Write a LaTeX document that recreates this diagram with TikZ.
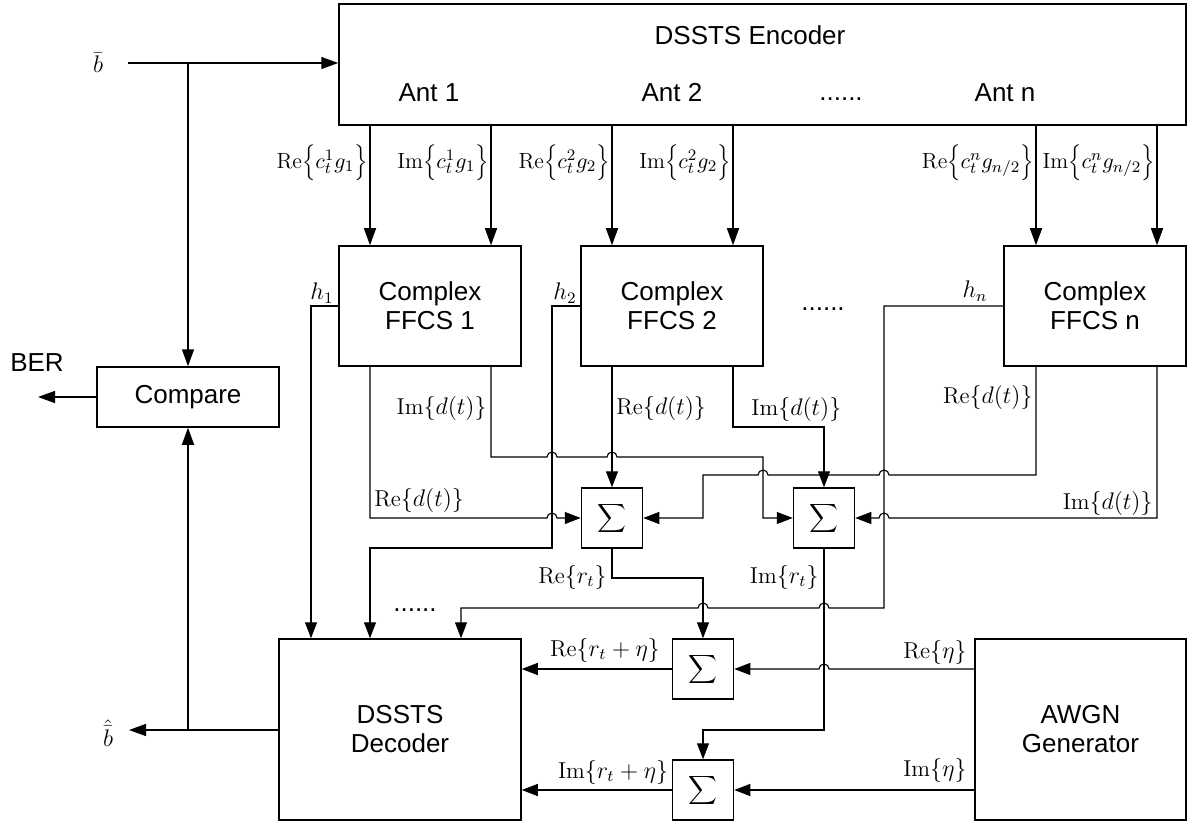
\documentclass[tikz,border=0pt]{standalone}
\usepackage{fontspec}
\usetikzlibrary{arrows.meta}
\newfontfamily\arialf{Liberation Sans}
\newcommand\myBbr[1]{\Bigl\{#1\Bigr\}}
\newcommand\mybr[1]{\{#1\}}
\begin{document}
\begin{tikzpicture}[x=0.5pt,y=-0.5pt,
  box/.style={draw,line width=0.75pt,inner sep=0pt},
  lbl/.style={font=\arialf\fontsize{13}{14.5}\selectfont,inner sep=0pt},
  mlbl/.style={font=\fontsize{11.5}{14}\selectfont,inner sep=1pt},
  elbl/.style={font=\fontsize{11}{14}\selectfont,inner sep=0.5pt},
  ffcs/.style={box,lbl,align=center,minimum width=91pt,minimum height=60pt},
  sbox/.style={box,minimum width=30.5pt,minimum height=30pt,font=\fontsize{13}{15}\selectfont},
  wire/.style={line width=0.55pt},
  thwire/.style={line width=0.75pt,-{Triangle[length=8.5pt,width=6pt]}},
  arr/.style={wire,-{Triangle[length=8pt,width=6pt]}}]
\useasboundingbox (0,0) rectangle (1187,823);
% x positions
\foreach \n in {311,370,461,491,612,703,733,824,884,1036,1157} {\coordinate (c\n) at (\n,0);}
% blocks
\node[box,minimum width=423.5pt,minimum height=60.5pt] (enc) at (762.5,64.5) {};
\node[lbl] (enct) at (750,35) {DSSTS Encoder};
\node[lbl] (ant1) at (429,93) {Ant 1};
\node[lbl] (ant2) at (672,93) {Ant 2};
\node[lbl] (antd) at (841,99) {......};
\node[lbl] (antn) at (1005,93) {Ant n};
\node[ffcs] (f1) at (430,306) {Complex\\FFCS 1};
\node[ffcs] (f2) at (672,306) {Complex\\FFCS 2};
\node[ffcs] (fn) at (1095,306) {Complex\\FFCS n};
\node[lbl] (fdots) at (823,309) {......};
\node[box,lbl,minimum width=91pt,minimum height=30pt] (cmp) at (188,397) {Compare};
\node[box,lbl,align=center,minimum width=121pt,minimum height=90.5pt] (dec) at (400,729.5) {DSSTS\\Decoder};
\node[box,lbl,align=center,minimum width=105.5pt,minimum height=90.5pt] (awgn) at (1080.5,729.5) {AWGN\\Generator};
\node[lbl] (ddots) at (415,610) {......};
\node[sbox] (s1) at (612,518) {$\displaystyle\sum$};
\node[sbox] (s2) at (824,518) {$\displaystyle\sum$};
\node[sbox] (s3) at (703,669) {$\displaystyle\sum$};
\node[sbox] (s4) at (703,790) {$\displaystyle\sum$};
% input / compare
\node[mlbl] (bbar) at (98,63) {$\bar{b}$};
\coordinate (bin) at (128,63);
\draw[thwire] (bin) -- (bin -| enc.west);
\draw[thwire] (bin -| cmp.north) -- (cmp.north);
\node[lbl] (ber) at (37,363) {BER};
\coordinate (berend) at (38,397);
\draw[thwire] (cmp.west) -- (berend);
\node[mlbl] (bhat) at (108,733) {$\hat{\bar{b}}$};
\coordinate (bhend) at (129,730);
\draw[thwire] (dec.west |- bhend) -- (bhend);
\draw[thwire] (cmp.south |- bhend) -- (cmp.south);
% encoder outputs
\draw[thwire] (enc.south -| c370) -- (f1.north -| c370);
\draw[thwire] (enc.south -| c491) -- (f1.north -| c491);
\draw[thwire] (enc.south -| c612) -- (f2.north -| c612);
\draw[thwire] (enc.south -| c733) -- (f2.north -| c733);
\draw[thwire] (enc.south -| c1036) -- (fn.north -| c1036);
\draw[thwire] (enc.south -| c1157) -- (fn.north -| c1157);
\node[elbl,anchor=east] at (369,163) {$\mathrm{Re}\myBbr{c_t^1 g_1}$};
\node[elbl,anchor=east] at (490,163) {$\mathrm{Im}\myBbr{c_t^1 g_1}$};
\node[elbl,anchor=east] at (611,163) {$\mathrm{Re}\myBbr{c_t^2 g_2}$};
\node[elbl,anchor=east] at (732,163) {$\mathrm{Im}\myBbr{c_t^2 g_2}$};
\node[elbl,anchor=east] at (1035,163) {$\mathrm{Re}\myBbr{c_t^n g_{n/2}}$};
\node[elbl,anchor=east] at (1156,163) {$\mathrm{Im}\myBbr{c_t^n g_{n/2}}$};
% FFCS outputs
\draw[arr] (f1.south -| c370) -- (370,518) -- (547,518) arc[start angle=180,end angle=0,radius=2.5pt] -- (s1.west);
\draw[arr] (f1.south -| c491) -- (491,457) -- (547,457) arc[start angle=180,end angle=0,radius=2.5pt]
  -- (607,457) arc[start angle=180,end angle=0,radius=2.5pt] -- (763,457) -- (763,518) -- (s2.west);
\draw[arr] (f2.south -| c612) -- (s1.north);
\draw[arr] (f2.south -| c733) -- (733,427) -- (824,427) -- (s2.north);
\draw[arr] (fn.south -| c1036) -- (1036,475) -- (889,475) arc[start angle=0,end angle=180,radius=2.5pt]
  -- (768,475) arc[start angle=0,end angle=180,radius=2.5pt] -- (703,475) -- (703,518) -- (s1.east);
\draw[arr] (fn.south -| c1157) -- (1157,518) -- (889,518) arc[start angle=0,end angle=180,radius=2.5pt] -- (s2.east);
\node[mlbl,anchor=east] at (489,408) {$\mathrm{Im}\mybr{d(t)}$};
\node[mlbl,anchor=west] at (372,500) {$\mathrm{Re}\mybr{d(t)}$};
\node[mlbl,anchor=west] at (614,408) {$\mathrm{Re}\mybr{d(t)}$};
\node[mlbl,anchor=west] at (749,409) {$\mathrm{Im}\mybr{d(t)}$};
\node[mlbl,anchor=east] at (1035,397) {$\mathrm{Re}\mybr{d(t)}$};
\node[mlbl,anchor=east] at (1155,503) {$\mathrm{Im}\mybr{d(t)}$};
% channel gains
\node[mlbl] at (322,293) {$h_1$};
\node[mlbl] at (565,293) {$h_2$};
\node[mlbl] at (975,291) {$h_n$};
\draw[arr] (f1.west) -- (311,306) -- (c311 |- dec.north);
\draw[arr] (f2.west) -- (552,306) -- (552,548) -- (370,548) -- (c370 |- dec.north);
\draw[arr] (fn.west) -- (884,306) -- (884,608) -- (829,608) arc[start angle=0,end angle=180,radius=2.5pt]
  -- (708,608) arc[start angle=0,end angle=180,radius=2.5pt] -- (461,608) -- (c461 |- dec.north);
% sums
\draw[arr] (s1.south) -- (612,578) -- (703,578) -- (s3.north);
\draw[arr] (s2.south) -- (824,730) -- (703,730) -- (s4.north);
\node[mlbl,anchor=east] at (609,577) {$\mathrm{Re}\mybr{r_t}$};
\node[mlbl,anchor=east] at (821,577) {$\mathrm{Im}\mybr{r_t}$};
\draw[arr] (awgn.west |- s3.east) -- (829,669) arc[start angle=0,end angle=180,radius=2.5pt] -- (s3.east);
\draw[arr] (awgn.west |- s4.east) -- (s4.east);
\draw[arr] (s3.west) -- (dec.east |- s3.west);
\draw[arr] (s4.west) -- (dec.east |- s4.west);
\node[mlbl] at (935,652) {$\mathrm{Re}\mybr{\eta}$};
\node[mlbl] at (935,770) {$\mathrm{Im}\mybr{\eta}$};
\node[mlbl] at (605,650) {$\mathrm{Re}\mybr{r_t+\eta}$};
\node[mlbl] at (613,772) {$\mathrm{Im}\mybr{r_t+\eta}$};
\end{tikzpicture}
\end{document}
